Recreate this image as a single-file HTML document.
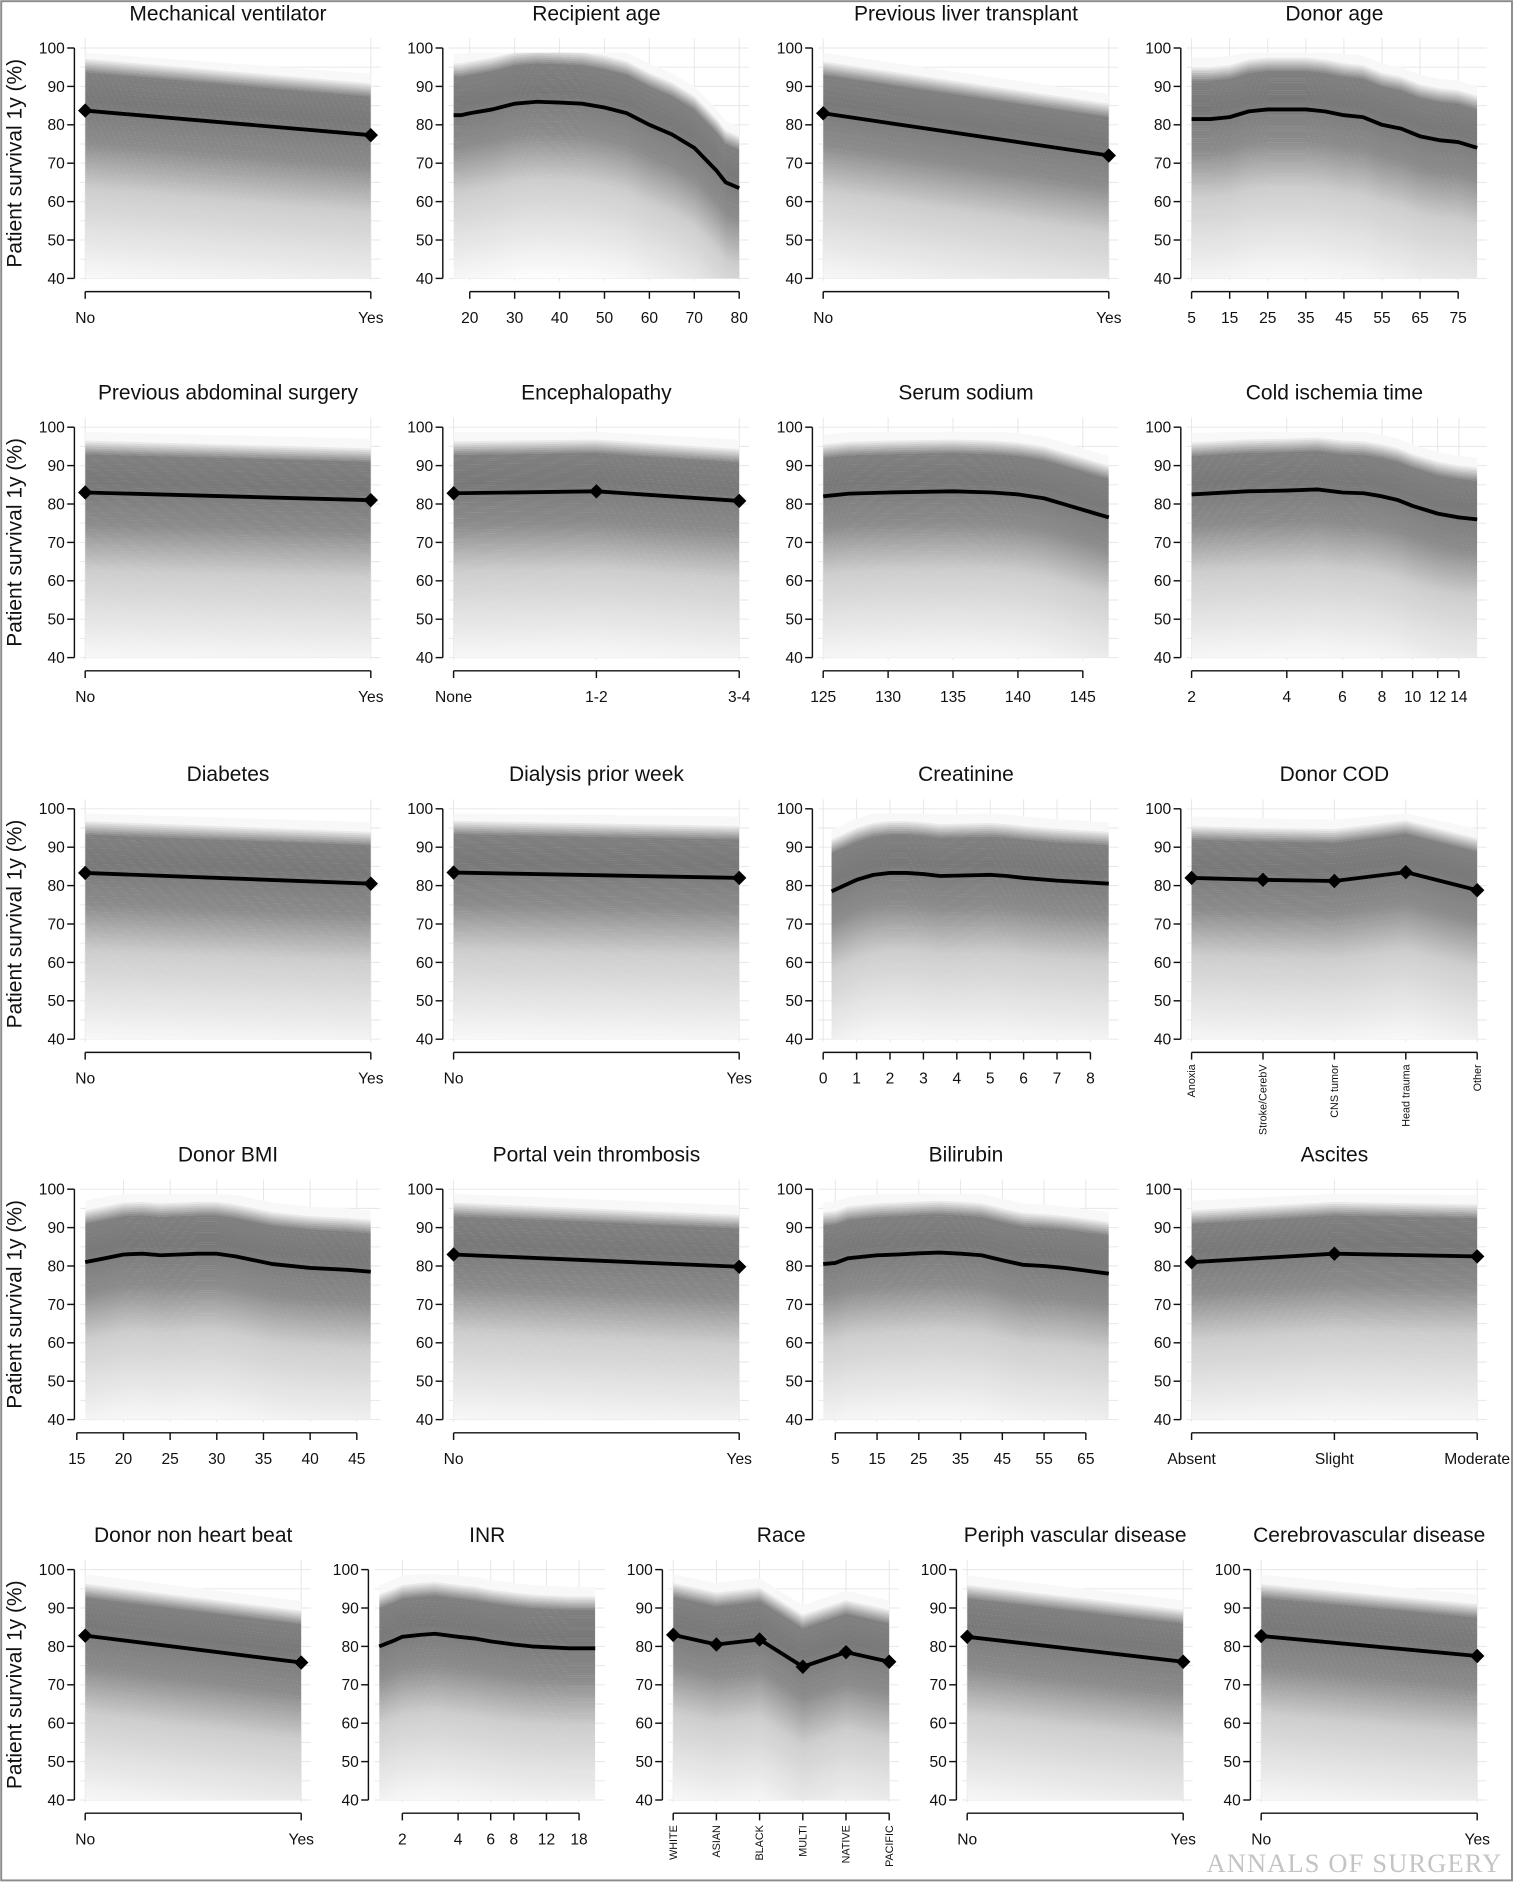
<!DOCTYPE html>
<html><head><meta charset="utf-8"><style>
html,body{margin:0;padding:0;background:#fff}
svg{display:block;font-family:"Liberation Sans",Arial,sans-serif}
</style></head><body>
<svg id="fig" width="1514" height="1882" viewBox="0 0 1261.67 1568.33" xmlns="http://www.w3.org/2000/svg">
<rect x="1" y="1" width="1259" height="1566" fill="#fff" stroke="#8a8a8a" stroke-width="1.6"/>
<text x="1252" y="1560" text-anchor="end" font-family="Liberation Serif,serif" font-size="22" fill="#c4c4c4" letter-spacing="1">ANNALS OF SURGERY</text>
</svg>
<script>
// ---- data ----
const titles=["Mechanical ventilator","Recipient age","Previous liver transplant","Donor age","Previous abdominal surgery","Encephalopathy","Serum sodium","Cold ischemia time","Diabetes","Dialysis prior week","Creatinine","Donor COD","Donor BMI","Portal vein thrombosis","Bilirubin","Ascites","Donor non heart beat","INR","Race","Periph vascular disease","Cerebrovascular disease"];
const catMechVent=["No","Yes"], valMechVent=[83.7,77.3];
const xRecAge=[16.4,18,20,25,30,35,40,45,50,55,60,65,70,75,77,80], valRecAge=[82.5,82.5,83,84,85.5,86,85.8,85.5,84.5,83,80,77.5,74,68,65,63.5];
const tickRecAge=[20,30,40,50,60,70,80];
const catPrevLT=["No","Yes"], valPrevLT=[83,72];
const xDonorAge=[5,10,15,20,25,30,35,40,45,50,55,60,65,70,75,80], valDonorAge=[81.5,81.5,82,83.5,84,84,84,83.5,82.5,82,80,79,77,76,75.5,74];
const tickDonorAge=[5,15,25,35,45,55,65,75];
const catAbd=["No","Yes"], valAbd=[83,81];
const catEnc=["None","1-2","3-4"], valEnc=[82.8,83.3,80.8];
const xSodium=[125,127,130,135,138,140,142,144,146,147], valSodium=[82,82.7,83,83.3,83,82.5,81.5,79.5,77.5,76.5];
const tickSodium=[125,130,135,140,145];
const xCold=[2,3,4,5,6,7,8,9,10,12,14,16], valCold=[82.5,83.3,83.5,83.8,83,82.8,82,81,79.5,77.5,76.5,76];
const tickCold=[2,4,6,8,10,12,14];
const catDiab=["No","Yes"], valDiab=[83.3,80.5];
const catDial=["No","Yes"], valDial=[83.4,82];
const xCreat=[0.25,0.5,1,1.5,2,2.5,3,3.5,4,5,5.5,6,7,8,8.55], valCreat=[78.5,79.5,81.5,82.8,83.3,83.3,83,82.5,82.6,82.8,82.5,82,81.3,80.8,80.5];
const tickCreat=[0,1,2,3,4,5,6,7,8];
const catCOD=["Anoxia","Stroke/CerebV","CNS tumor","Head trauma","Other"], valCOD=[82,81.5,81.2,83.5,78.8];
const xBMI=[15.9,18,20,22,24,26,28,30,32,34,36,40,44,46.5], valBMI=[81,82,83,83.2,82.8,83,83.2,83.2,82.5,81.5,80.5,79.5,79,78.5];
const tickBMI=[15,20,25,30,35,40,45];
const catPVT=["No","Yes"], valPVT=[83,79.8];
const xBili=[2.1,5,8,15,20,25,30,35,40,45,50,55,60,65,70.5], valBili=[80.5,80.8,82,82.8,83,83.3,83.5,83.2,82.8,81.5,80.3,80,79.5,78.8,78];
const tickBili=[5,15,25,35,45,55,65];
const catAsc=["Absent","Slight","Moderate"], valAsc=[81,83.2,82.5];
const catNHB=["No","Yes"], valNHB=[82.8,75.8];
const xINR=[1.5,1.8,2,2.5,3,4,5,6,8,10,12,16,22], valINR=[80,81.5,82.5,83,83.3,82.5,82,81.3,80.5,80,79.8,79.5,79.5];
const tickINR=[2,4,6,8,12,18];
const catRace=["WHITE","ASIAN","BLACK","MULTI","NATIVE","PACIFIC"], valRace=[83,80.5,81.8,74.7,78.5,76];
const catPVD=["No","Yes"], valPVD=[82.5,76];
const catCVD=["No","Yes"], valCVD=[82.7,77.5];
const yTicks=[40,50,60,70,80,90,100];

const panels=[
 {t:0,cat:catMechVent,v:valMechVent},
 {t:1,x:xRecAge,v:valRecAge,ticks:tickRecAge,dom:[16.4,80]},
 {t:2,cat:catPrevLT,v:valPrevLT},
 {t:3,x:xDonorAge,v:valDonorAge,ticks:tickDonorAge,dom:[5,80]},
 {t:4,cat:catAbd,v:valAbd},
 {t:5,cat:catEnc,v:valEnc},
 {t:6,x:xSodium,v:valSodium,ticks:tickSodium,dom:[125,147]},
 {t:7,x:xCold,v:valCold,ticks:tickCold,dom:[2,16],log:true},
 {t:8,cat:catDiab,v:valDiab},
 {t:9,cat:catDial,v:valDial},
 {t:10,x:xCreat,v:valCreat,ticks:tickCreat,dom:[0,8.55]},
 {t:11,cat:catCOD,v:valCOD,rot:true},
 {t:12,x:xBMI,v:valBMI,ticks:tickBMI,dom:[15.9,46.5]},
 {t:13,cat:catPVT,v:valPVT},
 {t:14,x:xBili,v:valBili,ticks:tickBili,dom:[2.1,70.5]},
 {t:15,cat:catAsc,v:valAsc},
 {t:16,cat:catNHB,v:valNHB},
 {t:17,x:xINR,v:valINR,ticks:tickINR,dom:[1.5,22],log:true},
 {t:18,cat:catRace,v:valRace,rot:true},
 {t:19,cat:catPVD,v:valPVD},
 {t:20,cat:catCVD,v:valCVD}
];
const rowTop=[40,356,674,991,1308];
const colL4=[71,378,686,993], colL5=[71,316,561,806,1051];
const NS="http://www.w3.org/2000/svg";
const svg=document.getElementById('fig');
function mk(tag,attrs,parent){const e=document.createElementNS(NS,tag);for(const k in attrs)e.setAttribute(k,attrs[k]);(parent||svg).appendChild(e);return e;}
function shade(o){
 let L;
 if(o>14)L=248;else if(o>10)L=248-(14-o)/4*120;else if(o>3)L=128-(10-o)/7*8;
 else if(o>-8)L=120+(3-o)/11*20;else if(o>-20)L=140+(-8-o)/12*65;else L=Math.min(252,205+(-20-o)/25*47);
 L=Math.round(L);return `rgb(${L},${L},${L})`;
}
panels.forEach((p,i)=>{
 const r=i<16?Math.floor(i/4):4, c=i<16?i%4:i-16;
 const L=r<4?colL4[c]:colL5[c], W=r<4?238:180;
 const top=rowTop[r], bot=top+192;
 const g=mk('g',{});
 
 
 const ys=v=>bot-(v-40)/60*192;
 let xs, pts;
 if(p.cat){ const n=p.cat.length; xs=k=>L+k*W/(n-1); pts=p.v.map((v,k)=>[xs(k),v]); }
 else { const f=p.log?Math.log:(a=>a); const d0=f(p.dom[0]),d1=f(p.dom[1]);
   xs=a=>L+(f(a)-d0)/(d1-d0)*W; pts=p.x.map((a,k)=>[xs(a),p.v[k]]); }
 const gg=mk('g',{},g);
 for(let v=40;v<=100;v+=5) mk('line',{x1:L-4,x2:L+W+8,y1:ys(v),y2:ys(v),stroke:'#e6e6e6','stroke-width':0.8},gg);
 const vx=p.cat?p.cat.map((_,k)=>xs(k)):p.ticks.filter(t=>t>=p.dom[0]-0.5).map(t=>Math.max(L,xs(t)));
 vx.forEach(x=>mk('line',{x1:x,x2:x,y1:top-8,y2:bot+2,stroke:'#e6e6e6','stroke-width':0.8},gg));
 const cid='clip'+i; const cp=mk('clipPath',{id:cid},g); mk('rect',{x:L,y:top-10,width:W,height:202},cp);
 const bg=mk('g',{'clip-path':`url(#${cid})`},g);
 for(let o=16;o>-46;o-=0.5){
   const up=pts.map(q=>`${q[0]},${ys(Math.min(98.8,q[1]+o))}`);
   const lo=pts.slice().reverse().map(q=>`${q[0]},${ys(Math.min(98.8,q[1]+o-0.55))}`);
   mk('polygon',{points:up.concat(lo).join(' '),fill:shade(o)},bg);
 }
 const ml=mk('polyline',{points:pts.map(q=>`${q[0]},${ys(q[1])}`).join(' '),fill:'none',stroke:'#000','stroke-width':3.2,'stroke-linejoin':'round'},g);
 
 if(p.cat) pts.forEach(q=>{const m=mk('polygon',{points:`${q[0]-6},${ys(q[1])} ${q[0]},${ys(q[1])-6} ${q[0]+6},${ys(q[1])} ${q[0]},${ys(q[1])+6}`,fill:'#000'},g);
   });
 const ax=L-9;
 const ya=mk('g',{},g);
 mk('line',{x1:ax,x2:ax,y1:ys(100),y2:ys(40),stroke:'#111','stroke-width':1.2},ya);
 yTicks.forEach(v=>{mk('line',{x1:ax-6,x2:ax,y1:ys(v),y2:ys(v),stroke:'#111','stroke-width':1.2},ya);
   const t=mk('text',{x:ax-8,y:ys(v)+4.5,'text-anchor':'end','font-size':13,fill:'#111'},ya);t.textContent=v;});
 const xa=mk('g',{},g);
 const by=bot+11;
 let tx, tl;
 if(p.cat){tx=p.cat.map((_,k)=>xs(k));tl=p.cat;} else {tx=p.ticks.map(t=>xs(t));tl=p.ticks.map(String);}
 mk('line',{x1:tx[0],x2:tx[tx.length-1],y1:by,y2:by,stroke:'#111','stroke-width':1.2},xa);
 tx.forEach((x,k)=>{mk('line',{x1:x,x2:x,y1:by,y2:by+6,stroke:'#111','stroke-width':1.2},xa);
   let t;
   if(p.rot){t=mk('text',{x:0,y:0,'text-anchor':'end','font-size':9,fill:'#111',transform:`translate(${x+3},${by+10}) rotate(-90)`},xa);}
   else t=mk('text',{x:x,y:by+26,'text-anchor':'middle','font-size':13,fill:'#111'},xa);
   t.textContent=tl[k];});
 const tt=mk('text',{x:L+W/2,y:top-23,'text-anchor':'middle','font-size':17.5,fill:'#111'},g);
 
 tt.textContent=titles[p.t];
 if(c===0){const yl=mk('text',{x:0,y:0,'text-anchor':'middle','font-size':17.5,fill:'#111',transform:`translate(18,${(top+bot)/2}) rotate(-90)`},g);
   
   yl.textContent='Patient survival 1y (%)';}
});
</script>
</body></html>
